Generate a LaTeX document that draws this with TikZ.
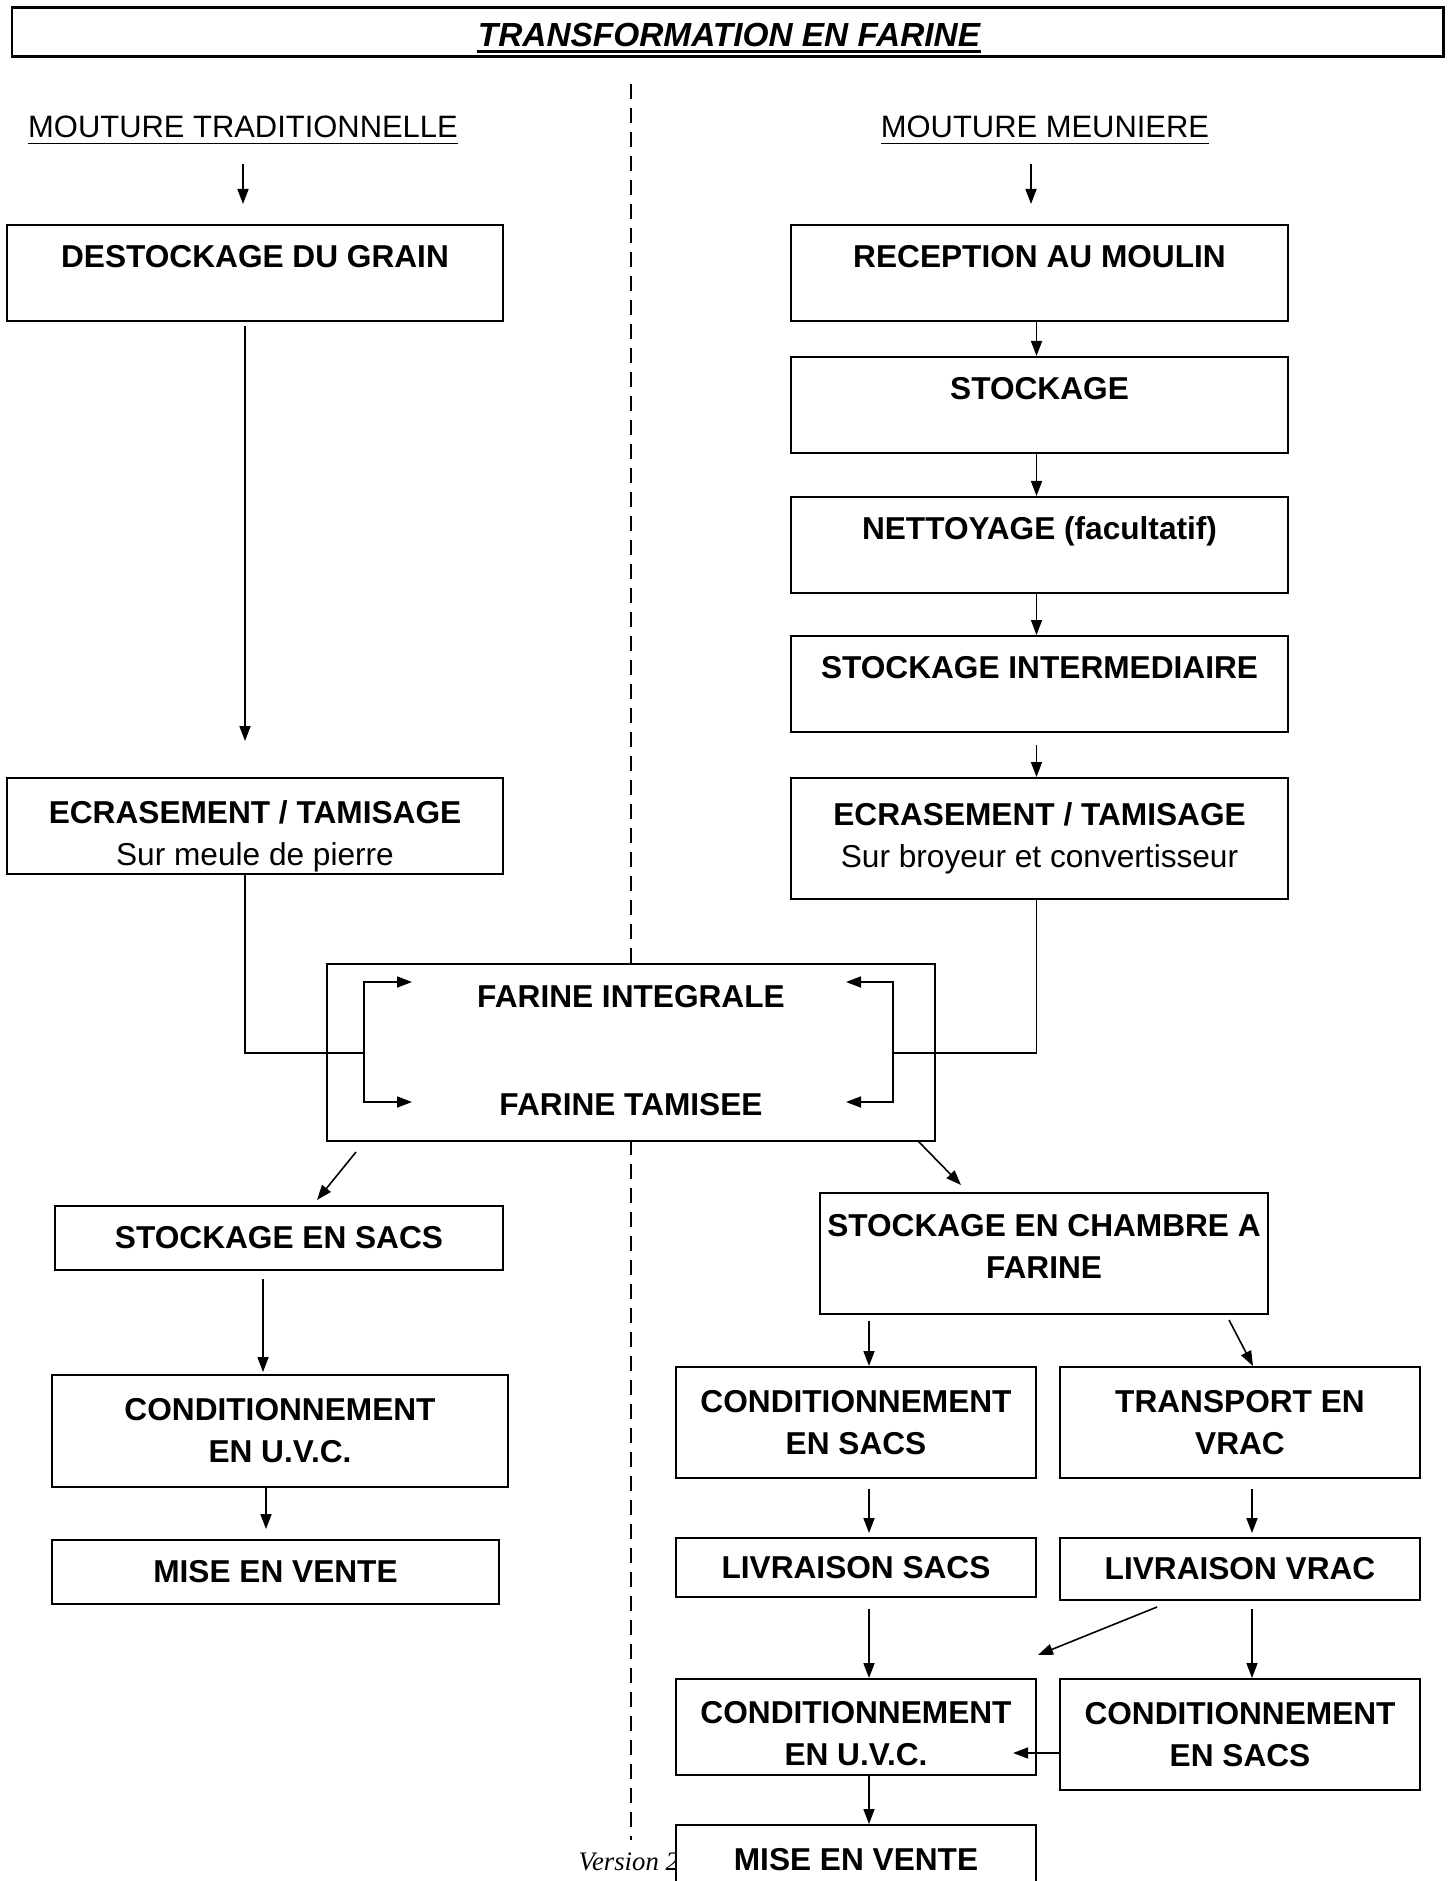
\documentclass[tikz,border=0pt]{standalone}
\usepackage{fontspec}
\setmainfont{Liberation Sans}
\newfontfamily\verfont{Liberation Serif}
\usetikzlibrary{arrows.meta,positioning}

\tikzset{
  box/.style={draw, line width=0.55pt, inner sep=0pt, align=center, font=\fontsize{9}{12}\selectfont\bfseries},
  topbox/.style={box, anchor=north, minimum width=49.7mm, text height=4.3mm, text depth=5.3mm},
  flour/.style={font=\fontsize{9}{11}\selectfont\bfseries, inner sep=0pt},
  heading/.style={anchor=base, font=\fontsize{8.8}{11}\selectfont},
  arr/.style={-{Triangle[length=1.5mm,width=1.1mm]}, line width=0.45pt},
  link/.style={line width=0.45pt}
}

\begin{document}
\begin{tikzpicture}[x=0.1mm, y=-0.1mm]
\useasboundingbox (0,0) rectangle (1452,1881);
\clip (0,0) rectangle (1452,1881);

% titre
\draw[line width=0.85pt] (12,8) rectangle (1443,57);
\node[font=\fontsize{9.5}{11}\selectfont\bfseries\itshape, anchor=base, inner sep=0pt] (title) at (729,47) {TRANSFORMATION EN FARINE};
\draw[line width=0.9pt] ([yshift=-0.45mm]title.base west) -- ([yshift=-0.45mm]title.base east);

% separation
\draw[dash pattern=on 1.5mm off 0.9mm, line width=0.45pt] (631,84) -- (631,1840);

\node[heading] (trad) at (243,138) {\underline{MOUTURE TRADITIONNELLE}};
\node[heading] (meun) at (1045,138) {\underline{MOUTURE MEUNIERE}};

% mouture traditionnelle
\node[topbox, minimum width=49.6mm] (dest) at (255,224) {DESTOCKAGE DU GRAIN};
\node[box, minimum width=49.6mm, minimum height=9.6mm] (ecrL) at (255,826) {\rule{0pt}{4.3mm}ECRASEMENT / TAMISAGE\\\mdseries Sur meule de pierre};
\node[box, minimum width=44.8mm, minimum height=6.4mm] (sacsL) at (279,1238) {STOCKAGE EN SACS};
\node[box, minimum width=45.6mm, minimum height=11.2mm] (uvcL) at (280,1431) {CONDITIONNEMENT\\EN U.V.C.};
\node[box, minimum width=44.7mm, minimum height=6.4mm] (venteL) at (275.5,1572) {MISE EN VENTE};

% mouture meuniere
\node[topbox] (recep) at (1039.5,224) {RECEPTION AU MOULIN};
\node[topbox] (stock) at (1039.5,356) {STOCKAGE};
\node[topbox] (nett) at (1039.5,496) {NETTOYAGE (facultatif)};
\node[topbox] (inter) at (1039.5,635) {STOCKAGE INTERMEDIAIRE};
\node[box, minimum width=49.7mm, minimum height=12.1mm] (ecrR) at (1039.5,838.5) {ECRASEMENT / TAMISAGE\\\mdseries Sur broyeur et convertisseur};

% farines
\node[box, fill=white, minimum width=60.8mm, minimum height=17.7mm] (farine) at (631,1052.5) {};
\node[flour] (integ) at (631,997) {FARINE INTEGRALE};
\node[flour] (tamis) at (631,1105) {FARINE TAMISEE};

\node[box, minimum width=44.8mm, minimum height=12.1mm] (chambre) at (1044,1253.5) {STOCKAGE EN CHAMBRE A\\FARINE\rule[-1.4mm]{0pt}{1.4mm}};
\node[box, minimum width=36mm, minimum height=11.1mm] (condS) at (856,1422.5) {CONDITIONNEMENT\\EN SACS};
\node[box, minimum width=36mm, minimum height=11.1mm] (transp) at (1240,1422.5) {TRANSPORT EN\\VRAC};
\node[box, minimum width=36mm, minimum height=5.9mm] (livS) at (856,1567.5) {LIVRAISON SACS};
\node[box, minimum width=36mm, minimum height=6.2mm] (livV) at (1240,1569) {LIVRAISON VRAC};
\node[box, minimum width=36mm, minimum height=9.6mm] (uvcR) at (856,1727) {\rule{0pt}{3.6mm}CONDITIONNEMENT\\EN U.V.C.};
\node[box, minimum width=36mm, minimum height=11.1mm] (condS2) at (1240,1734.5) {CONDITIONNEMENT\\EN SACS};

\node[font=\verfont\itshape\fontsize{7.6}{9}\selectfont, anchor=base west, inner sep=0pt] (ver) at (578,1870) {Version 2};
\node[box, fill=white, minimum width=36mm, minimum height=7mm] (venteR) at (856,1860) {MISE EN VENTE};

% fleches gauche
\draw[arr, shorten <=0.6mm, shorten >=2mm] (trad.south) -- (trad.south |- dest.north);
\draw[arr, shorten <=0.4mm, shorten >=3.6mm] ([xshift=-1mm]dest.south) -- ([xshift=-1mm]dest.south |- ecrL.north);

\coordinate (jL) at (364,1053);
\coordinate (inL) at (412,982);
\coordinate (tamL) at (412,1102);
\draw[link] ([xshift=-1mm]ecrL.south) |- (jL);
\draw[arr] (jL) |- (inL);
\draw[arr] (jL) |- (tamL);

\coordinate (jR) at (893,1053);
\coordinate (inR) at (846,982);
\coordinate (tamR) at (846,1102);
\draw[link] ([xshift=-0.3mm]ecrR.south) |- (jR);
\draw[arr] (jR) |- (inR);
\draw[arr] (jR) |- (tamR);

\coordinate (fA) at (356,1152);
\coordinate (fB) at (317,1200);
\draw[arr] (fA) -- (fB);
\coordinate (fC) at (918,1141);
\coordinate (fD) at (961,1185);
\draw[arr] (fC) -- (fD);

\draw[arr, shorten <=0.8mm, shorten >=0.2mm] ([xshift=-1.6mm]sacsL.south) -- ([xshift=-1.6mm]sacsL.south |- uvcL.north);
\draw[arr, shorten >=1mm] ([xshift=-1.4mm]uvcL.south) -- ([xshift=-1.4mm]uvcL.south |- venteL.north);

% fleches droite
\draw[arr, shorten <=0.6mm, shorten >=2mm] ([xshift=-1.4mm]meun.south) -- ([xshift=-1.4mm]meun.south |- recep.north);
\foreach \a/\b in {recep/stock, stock/nett, nett/inter}
  \draw[arr] ([xshift=-0.3mm]\a.south) -- ([xshift=-0.3mm]\b.north);
\draw[arr, shorten <=1.2mm] ([xshift=-0.3mm]inter.south) -- ([xshift=-0.3mm]ecrR.north);

\coordinate (colA) at (869,0);
\coordinate (colB) at (1252,0);
\draw[arr, shorten <=0.6mm] (chambre.south -| colA) -- (condS.north -| colA);
\coordinate (chA) at (1229,1320);
\coordinate (chB) at (1253,1366);
\draw[arr] (chA) -- (chB);
\draw[arr, shorten <=1mm, shorten >=0.4mm] (condS.south -| colA) -- (livS.north -| colA);
\draw[arr, shorten <=1mm, shorten >=0.4mm] (transp.south -| colB) -- (livV.north -| colB);
\draw[arr, shorten <=1.1mm] (livS.south -| colA) -- (uvcR.north -| colA);
\draw[arr, shorten <=0.8mm] (livV.south -| colB) -- (condS2.north -| colB);
\coordinate (lvA) at (1157,1607);
\coordinate (lvB) at (1038,1655);
\draw[arr] (lvA) -- (lvB);
\coordinate (rowU) at (0,1753);
\draw[arr] (condS2.west |- rowU) -- ++(-4.6mm,0);
\draw[arr] (uvcR.south -| colA) -- (venteR.north -| colA);
\end{tikzpicture}
\end{document}
